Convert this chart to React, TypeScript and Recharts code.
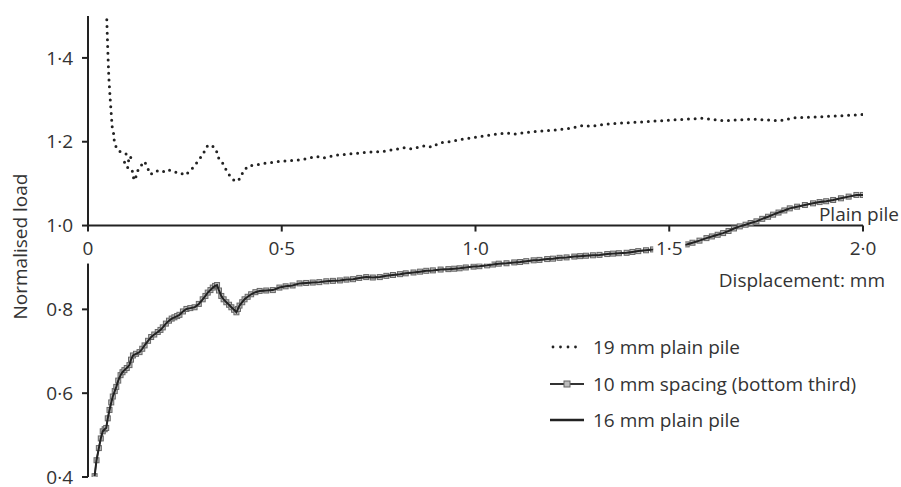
import { LineChart, Line, XAxis, YAxis, ReferenceLine, ReferenceDot, Legend } from "recharts";

// 19 mm plain pile (dotted)
const disp19 = [
  0.0485, 0.051, 0.0537, 0.0573, 0.06, 0.0625, 0.0666, 0.068, 0.0744, 0.0873, 0.1028, 0.1097, 0.1115, 0.102, 0.093,
  0.0968, 0.114, 0.1157, 0.1219, 0.126, 0.1348, 0.1459, 0.1544, 0.1614, 0.176, 0.1916, 0.2053, 0.2233, 0.2363, 0.249,
  0.2638, 0.286, 0.2982, 0.3067, 0.318, 0.331, 0.335, 0.348, 0.357, 0.368, 0.38, 0.393, 0.4, 0.4126, 0.43, 0.451, 0.486,
  0.494, 0.538, 0.555, 0.589, 0.605, 0.641, 0.7095, 0.761, 0.796, 0.817, 0.834, 0.871, 0.888, 0.906, 0.94, 0.959, 0.989,
  1.028, 1.08, 1.097, 1.148, 1.209, 1.243, 1.278, 1.299, 1.321, 1.347, 1.426, 1.529, 1.587, 1.639, 1.717, 1.785, 1.82,
  1.923, 2.0,
];
const load19 = [
  1.491, 1.42, 1.354, 1.302, 1.266, 1.235, 1.217, 1.199, 1.183, 1.173, 1.17, 1.167, 1.153, 1.155, 1.156,
  1.141, 1.134, 1.117, 1.108, 1.127, 1.141, 1.153, 1.136, 1.122, 1.131, 1.127, 1.134, 1.127, 1.127, 1.12,
  1.13, 1.156, 1.173, 1.189, 1.193, 1.181, 1.164, 1.148, 1.132, 1.116, 1.105, 1.112, 1.128, 1.142, 1.144, 1.148, 1.152,
  1.153, 1.156, 1.158, 1.165, 1.161, 1.168, 1.174, 1.177, 1.182, 1.186, 1.183, 1.191, 1.187, 1.197, 1.201, 1.205, 1.209,
  1.215, 1.221, 1.218, 1.224, 1.228, 1.232, 1.239, 1.237, 1.24, 1.243, 1.247, 1.253, 1.256, 1.25, 1.254, 1.25, 1.257,
  1.261, 1.265,
];

// 10 mm spacing (bottom third) and 16 mm plain pile: the two curves coincide
const disp10 = [
  0.017, 0.022, 0.028, 0.033, 0.038, 0.043, 0.047, 0.051, 0.0555, 0.06, 0.064, 0.069, 0.073, 0.078, 0.084, 0.089, 0.094,
  0.1, 0.107, 0.111, 0.116, 0.124, 0.133, 0.14, 0.146, 0.155, 0.163, 0.171, 0.18, 0.187, 0.193, 0.201, 0.209, 0.216,
  0.223, 0.23, 0.236, 0.245, 0.254, 0.264, 0.275, 0.286, 0.296, 0.303, 0.309, 0.316, 0.322, 0.328, 0.333, 0.338, 0.344,
  0.35, 0.357, 0.364, 0.37, 0.377, 0.383, 0.387, 0.391, 0.398, 0.404, 0.412, 0.421, 0.432, 0.443, 0.46, 0.477, 0.494,
  0.51, 0.528, 0.546, 0.563, 0.58, 0.597, 0.615, 0.632, 0.65, 0.667, 0.684, 0.7, 0.718, 0.735, 0.753, 0.77, 0.787, 0.805,
  0.82, 0.84, 0.857, 0.873, 0.89, 0.91, 0.93, 0.945, 0.959, 0.975, 0.995, 1.01, 1.03, 1.045, 1.06, 1.08, 1.1, 1.115,
  1.131, 1.15, 1.165, 1.185, 1.2, 1.217, 1.235, 1.255, 1.27, 1.285, 1.303, 1.32, 1.34, 1.355, 1.37, 1.39, 1.405, 1.42,
  1.44, 1.458, 1.475, 1.49, 1.51, 1.53, 1.545, 1.56, 1.578, 1.596, 1.61, 1.625, 1.639, 1.653, 1.667, 1.682, 1.697, 1.71,
  1.725, 1.74, 1.755, 1.768, 1.782, 1.797, 1.811, 1.83, 1.85, 1.871, 1.888, 1.905, 1.923, 1.943, 1.963, 1.983, 2.0,
];
const load10 = [
  0.402, 0.44, 0.469, 0.492, 0.509, 0.514, 0.517, 0.54, 0.56, 0.578, 0.592, 0.605, 0.615, 0.63, 0.643, 0.65, 0.655,
  0.66, 0.667, 0.68, 0.69, 0.694, 0.698, 0.706, 0.714, 0.725, 0.734, 0.74, 0.746, 0.751, 0.757, 0.766, 0.773, 0.778,
  0.781, 0.784, 0.787, 0.795, 0.801, 0.803, 0.805, 0.813, 0.824, 0.832, 0.84, 0.846, 0.852, 0.856, 0.858, 0.845, 0.832,
  0.824, 0.817, 0.811, 0.805, 0.799, 0.793, 0.801, 0.809, 0.817, 0.824, 0.83, 0.836, 0.841, 0.844, 0.845, 0.846, 0.852,
  0.855, 0.857, 0.862, 0.863, 0.864, 0.865, 0.867, 0.868, 0.869, 0.871, 0.872, 0.875, 0.877, 0.876, 0.877, 0.88, 0.882, 0.884,
  0.886, 0.888, 0.89, 0.892, 0.893, 0.895, 0.896, 0.897, 0.898, 0.9, 0.902, 0.903, 0.905, 0.907, 0.909, 0.91, 0.912, 0.913,
  0.915, 0.917, 0.918, 0.92, 0.921, 0.923, 0.924, 0.926, 0.927, 0.928, 0.929, 0.93, 0.932, 0.933, 0.934, 0.935, 0.937, 0.939,
  0.941, 0.943, 0.946, 0.948, 0.95, 0.953, 0.955, 0.959, 0.964, 0.97, 0.974, 0.978, 0.982, 0.987, 0.993, 0.998, 1.002, 1.006,
  1.01, 1.016, 1.021, 1.026, 1.031, 1.036, 1.041, 1.045, 1.049, 1.053, 1.056, 1.058, 1.061, 1.065, 1.069, 1.073, 1.073,
];
const load16 = load10;

const xTicks = [0, 0.5, 1.0, 1.5, 2.0];
const yTicks = [0.4, 0.6, 0.8, 1.0, 1.2, 1.4];
const seriesNames = ["19 mm plain pile", "10 mm spacing (bottom third)", "16 mm plain pile"];

const FONT = "'Open Sans', 'Noto Sans', sans-serif";
const INK = "#222";
const TEXT = "#333";

const fmt = (v: number) => (v === 0 ? "0" : v.toFixed(1).replace(".", "·"));

const zip = (xs: number[], ys: number[]) => xs.map((x, i) => ({ x, y: ys[i] }));
const data19 = zip(disp19, load19);
const data10 = zip(disp10, load10);
const data16 = zip(disp10, load16);

function squareDot(p: any) {
  const { cx, cy, index } = p;
  if (cx == null || cy == null) return <g key={`sq-${index}`} />;
  return (
    <rect key={`sq-${index}`} x={cx - 2.5} y={cy - 2.5} width={5} height={5} fill="#bdbdbd" stroke="#666" strokeWidth={1} />
  );
}

// tick mark + label on the axis that runs along load = 1.0; white box behind the label like the original
function xTickShape(p: any, t: number) {
  const { cx, cy } = p;
  const label = fmt(t);
  const w = label.length === 1 ? 18 : 32;
  return (
    <g>
      <rect x={cx - w / 2} y={cy + 5} width={w} height={33} fill="#fff" />
      <line x1={cx} y1={cy} x2={cx} y2={cy + 6} stroke={INK} strokeWidth={2} />
      <text x={cx} y={cy + 29.5} textAnchor="middle" fontSize={19} fontFamily={FONT} fill={TEXT}>
        {label}
      </text>
    </g>
  );
}

function axisNotes(p: any) {
  const { cx, cy } = p;
  return (
    <g fontFamily={FONT} fontSize={19} fill={TEXT}>
      <text x={cx + 36} y={cy - 4.5} textAnchor="end">Plain pile</text>
      <text x={cx + 22} y={cy + 61.5} textAnchor="end">Displacement: mm</text>
    </g>
  );
}

function LegendIcon({ i }: { i: number }) {
  if (i === 0)
    return (
      <svg width={36} height={12}>
        <line x1={3} y1={6} x2={33} y2={6} stroke={INK} strokeWidth={2.8} strokeLinecap="round" strokeDasharray="0 7.5" />
      </svg>
    );
  if (i === 1)
    return (
      <svg width={36} height={12}>
        <line x1={0} y1={6} x2={34} y2={6} stroke="#333" strokeWidth={2.2} />
        <rect x={14} y={3} width={6} height={6} fill="#bdbdbd" stroke="#666" strokeWidth={1} />
      </svg>
    );
  return (
    <svg width={36} height={12}>
      <line x1={0} y1={6} x2={34} y2={6} stroke={INK} strokeWidth={2.6} />
    </svg>
  );
}

function renderLegend() {
  return (
    <div style={{ fontFamily: FONT, fontSize: 19, color: TEXT }}>
      {seriesNames.map((name, i) => (
        <div key={name} style={{ height: 36.5, display: "flex", alignItems: "center", whiteSpace: "nowrap" }}>
          <LegendIcon i={i} />
          <span style={{ marginLeft: 7 }}>{name}</span>
        </div>
      ))}
    </div>
  );
}

export default function App() {
  return (
    <div style={{ position: "absolute", left: 0, top: 0, width: 901, height: 487, background: "#fff" }}>
      <LineChart width={901} height={487} margin={{ top: 16, right: 38, bottom: 10, left: 0 }}>
        <XAxis type="number" dataKey="x" domain={[0, 2]} hide allowDataOverflow />
        <YAxis
          type="number"
          domain={[0.4, 1.5]}
          ticks={yTicks}
          interval={0}
          tickFormatter={fmt}
          width={88}
          tickSize={6}
          tickMargin={9}
          allowDataOverflow
          axisLine={{ stroke: INK, strokeWidth: 2 }}
          tickLine={{ stroke: INK, strokeWidth: 2 }}
          tick={{ fill: TEXT, fontSize: 19, fontFamily: FONT }}
          label={{
            value: "Normalised load",
            angle: -90,
            position: "insideLeft",
            offset: 20,
            style: { textAnchor: "middle", fill: TEXT, fontSize: 19, fontFamily: FONT },
          }}
        />
        <ReferenceLine y={1} stroke={INK} strokeWidth={2} />
        <Line
          data={data19}
          dataKey="y"
          name={seriesNames[0]}
          type="linear"
          stroke={INK}
          strokeWidth={3}
          strokeLinecap="round"
          strokeDasharray="0 6.7"
          dot={false}
          activeDot={false}
          isAnimationActive={false}
        />
        <Line
          data={data10}
          dataKey="y"
          name={seriesNames[1]}
          type="linear"
          stroke="#555"
          strokeWidth={1.5}
          dot={squareDot}
          activeDot={false}
          isAnimationActive={false}
        />
        <Line
          data={data16}
          dataKey="y"
          name={seriesNames[2]}
          type="linear"
          stroke={INK}
          strokeWidth={2}
          dot={false}
          activeDot={false}
          zIndex={1200}
          isAnimationActive={false}
        />
        {xTicks.map((t) => (
          <ReferenceDot key={t} x={t} y={1} r={0} zIndex={1500} shape={(p: any) => xTickShape(p, t)} />
        ))}
        <ReferenceDot x={2} y={1} r={0} zIndex={1500} shape={axisNotes} />
        <Legend
          layout="vertical"
          align="center"
          verticalAlign="middle"
          content={renderLegend}
          wrapperStyle={{ left: 550, top: 329, width: 340, height: 110 }}
        />
      </LineChart>
    </div>
  );
}
